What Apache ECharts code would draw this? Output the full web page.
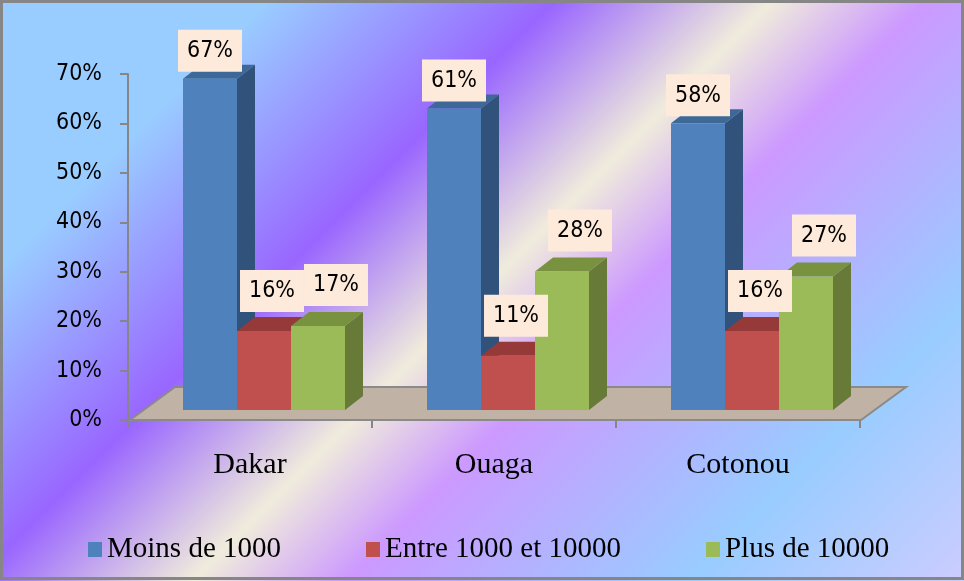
<!DOCTYPE html>
<html>
<head>
<meta charset="utf-8">
<title>Répartition par ville</title>
<script src="https://cdn.jsdelivr.net/npm/echarts@6/dist/echarts.min.js"></script>
<style>
  html, body { margin: 0; padding: 0; }
  #chart { width: 964px; height: 581px; }
</style>
</head>
<body>
<div id="chart"></div>
<script>
// Cities and the share of each size class (in %)
const categories = ['Dakar', 'Ouaga', 'Cotonou'];
const seriesNames = ['Moins de 1000', 'Entre 1000 et 10000', 'Plus de 10000'];
const moinsDe1000 = [67, 61, 58];
const entre1000Et10000 = [16, 11, 16];
const plusDe10000 = [17, 28, 27];
const yTickValues = [0, 10, 20, 30, 40, 50, 60, 70];

// Face colours of the pseudo-3D columns: front, side, top
const palettes = [
  { front: '#4f81bd', side: '#31527a', top: '#3d6897' },
  { front: '#c0504d', side: '#7f2f2d', top: '#953a38' },
  { front: '#9bbb59', side: '#677a38', top: '#78923f' }
];
// Where each value label box sits relative to its column (x nudge, gap above)
const labelPlacement = [[0, 7], [8, 19], [18, 20]];

const BAR_RATIO = 54 / 244;    // column width as a share of the category band
const SHIFT = [14, -10];       // columns stand a little back on the floor
const DEPTH = [18, -14];       // column depth projection
const FLOOR_DEPTH = [45, -33]; // floor depth projection
const LABEL_FONT = '23px "DejaVu Sans Condensed", "DejaVu Sans", sans-serif';

function columnRenderer(idx) {
  const pal = palettes[idx];
  const place = labelPlacement[idx];
  return function (params, api) {
    const c = api.value(0);
    const v = api.value(1);
    const base = api.coord([c, 0]);
    const peak = api.coord([c, v]);
    const w = api.size([1, 0])[0] * BAR_RATIO;
    const left = base[0] - 1.5 * w + SHIFT[0] + idx * w;
    const right = left + w;
    const bottom = base[1] + SHIFT[1];
    const top = peak[1] + SHIFT[1];
    const dx = DEPTH[0], dy = DEPTH[1];
    return {
      type: 'group',
      children: [
        {
          type: 'polygon',
          shape: { points: [[right, top], [right + dx, top + dy], [right + dx, bottom + dy], [right, bottom]] },
          style: { fill: pal.side }
        },
        {
          type: 'polygon',
          shape: { points: [[left, top], [left + dx, top + dy], [right + dx, top + dy], [right, top]] },
          style: { fill: pal.top }
        },
        {
          type: 'rect',
          shape: { x: left, y: top, width: w, height: bottom - top },
          style: { fill: pal.front }
        },
        {
          type: 'text',
          z2: 10,
          style: {
            text: v + '%',
            x: left + w / 2 + place[0],
            y: top - place[1],
            align: 'center',
            verticalAlign: 'bottom',
            font: LABEL_FONT,
            lineHeight: 23,
            fill: '#000',
            backgroundColor: '#fdeada',
            padding: [10, 9, 9, 9]
          }
        }
      ]
    };
  };
}

function floorRenderer(params) {
  const cs = params.coordSys;
  const y0 = cs.y + cs.height;
  const x0 = cs.x + 2;
  const x1 = cs.x + cs.width + 1;
  const fx = FLOOR_DEPTH[0], fy = FLOOR_DEPTH[1];
  return {
    type: 'polygon',
    shape: { points: [[x0, y0], [x1, y0], [x1 + fx, y0 + fy], [x0 + fx, y0 + fy]] },
    style: { fill: '#c0b3a6', stroke: '#8a8a8a', lineWidth: 2 }
  };
}

const valueSets = [moinsDe1000, entre1000Et10000, plusDe10000];

const columnSeries = valueSets.map(function (vals, idx) {
  return {
    type: 'custom',
    name: seriesNames[idx],
    renderItem: columnRenderer(idx),
    itemStyle: { color: palettes[idx].front },
    encode: { x: 0, y: 1 },
    data: vals.map(function (v, c) { return [c, v]; }),
    silent: true
  };
});

const chart = echarts.init(document.getElementById('chart'), null, { renderer: 'canvas' });

chart.setOption({
  animation: false,
  backgroundColor: new echarts.graphic.LinearGradient(0, 0, 772.5, 772.5, [
    { offset: 0, color: '#99ccff' },
    { offset: 0.175, color: '#99ccff' },
    { offset: 0.36, color: '#9966ff' },
    { offset: 0.5, color: '#f0ecdc' },
    { offset: 0.6, color: '#cc99ff' },
    { offset: 0.82, color: '#99ccff' },
    { offset: 1, color: '#ccccff' }
  ], true),
  graphic: [{
    type: 'rect',
    z: 100,
    silent: true,
    shape: { x: 1.5, y: 1.5, width: 961, height: 577 },
    style: { fill: 'none', stroke: '#868686', lineWidth: 3 }
  }],
  grid: { left: 128, right: 104, top: 74, bottom: 161, outerBoundsMode: 'none' },
  legend: {
    data: seriesNames,
    left: 83,
    top: 530,
    icon: 'rect',
    itemWidth: 14,
    itemHeight: 15,
    itemGap: 85,
    textStyle: { fontFamily: '"Liberation Serif", "Times New Roman", serif', fontSize: 29, color: '#000' }
  },
  xAxis: {
    type: 'category',
    data: categories,
    axisLine: { show: false },
    axisTick: { show: true, length: 8, lineStyle: { color: '#868686', width: 2 } },
    axisLabel: {
      margin: 30,
      color: '#000',
      fontFamily: '"Liberation Serif", "Times New Roman", serif',
      fontSize: 30
    },
    splitLine: { show: false }
  },
  yAxis: {
    type: 'value',
    min: yTickValues[0],
    max: yTickValues[yTickValues.length - 1],
    interval: yTickValues[1] - yTickValues[0],
    axisLine: { show: true, lineStyle: { color: '#868686', width: 2 } },
    axisTick: { show: true, length: 8, lineStyle: { color: '#868686', width: 2 } },
    axisLabel: {
      margin: 26,
      color: '#000',
      fontFamily: '"DejaVu Sans Condensed", "DejaVu Sans", sans-serif',
      fontSize: 23,
      padding: [8, 0, 0, 0],
      formatter: '{value}%'
    },
    splitLine: { show: false }
  },
  series: [{
    type: 'custom',
    name: 'floor',
    renderItem: floorRenderer,
    data: [[0, 0]],
    silent: true
  }].concat(columnSeries)
});
</script>
</body>
</html>
